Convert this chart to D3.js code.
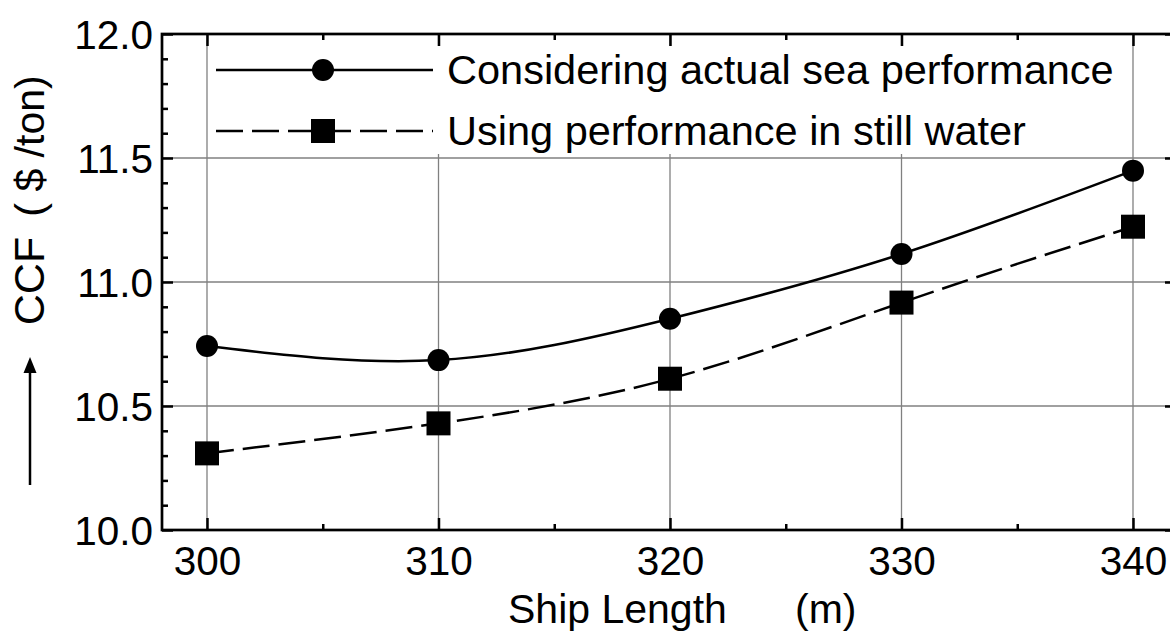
<!DOCTYPE html>
<html>
<head>
<meta charset="utf-8">
<script src="https://cdn.jsdelivr.net/npm/d3@7"></script>
<style>
  body { margin: 0; background: #fff; }
  svg { display: block; }
  text { font-family: "Liberation Sans", Arial, sans-serif; fill: #000; }
</style>
</head>
<body>
<div class="chart"></div>
<script>
// data
var shipLength = [300, 310, 320, 330, 340];
var ccfSea = [10.742, 10.685, 10.852, 11.113, 11.449];
var ccfStill = [10.309, 10.430, 10.610, 10.917, 11.223];
var xTicks = [300, 310, 320, 330, 340];
var xMinor = [305, 315, 325, 335];
var yTicks = [10.0, 10.5, 11.0, 11.5, 12.0];
var yMinor = [10.1, 10.2, 10.3, 10.4, 10.6, 10.7, 10.8, 10.9, 11.1, 11.2, 11.3, 11.4, 11.6, 11.7, 11.8, 11.9];
var seriesNames = ["Considering actual sea performance", "Using performance in still water"];

var svgWidth = 1170;
var svgHeight = 632;

// plot frame
var frame = { left: 162, right: 1176, top: 34, bottom: 530 };

var svg = d3.select(".chart")
    .append("svg")
    .attr("width", svgWidth)
    .attr("height", svgHeight);

var x = d3.scaleLinear().domain([300, 340]).range([207, 1133]);
var y = d3.scaleLinear().domain([10, 12]).range([frame.bottom, frame.top]);

// grid
var grid = svg.append("g").attr("stroke", "#808080").attr("stroke-width", 1.3);
grid.selectAll("line.v").data(xTicks).enter().append("line")
    .attr("x1", d => x(d)).attr("x2", d => x(d))
    .attr("y1", frame.top).attr("y2", frame.bottom);
grid.selectAll("line.h").data([10.5, 11.0, 11.5]).enter().append("line")
    .attr("x1", frame.left).attr("x2", frame.right)
    .attr("y1", d => y(d)).attr("y2", d => y(d));

// legend background hides the grid behind it
svg.append("rect")
    .attr("x", 211).attr("y", 46)
    .attr("width", 918).attr("height", 108)
    .attr("fill", "#fff");

// axes, ticks point inward
function styleAxis(g) {
    g.select(".domain").remove();
    g.selectAll(".tick line").attr("stroke", "#000").attr("stroke-width", 2.5);
    g.selectAll(".tick text").style("font-size", "40.5px").style("font-family", "Liberation Sans, Arial, sans-serif");
}

svg.append("g").attr("transform", `translate(0,${frame.bottom})`)
    .call(d3.axisBottom(x).tickValues(xTicks).tickSize(-12).tickPadding(16).tickFormat(d3.format("d")))
    .call(styleAxis);
svg.append("g").attr("transform", `translate(0,${frame.bottom})`)
    .call(d3.axisBottom(x).tickValues(xMinor).tickSize(-6).tickFormat(""))
    .call(styleAxis);
svg.append("g").attr("transform", `translate(0,${frame.top})`)
    .call(d3.axisTop(x).tickValues(xTicks).tickSize(-12).tickFormat(""))
    .call(styleAxis);
svg.append("g").attr("transform", `translate(0,${frame.top})`)
    .call(d3.axisTop(x).tickValues(xMinor).tickSize(-6).tickFormat(""))
    .call(styleAxis);

svg.append("g").attr("transform", `translate(${frame.left},0)`)
    .call(d3.axisLeft(y).tickValues(yTicks).tickSize(-11).tickPadding(9).tickFormat(d3.format(".1f")))
    .call(styleAxis)
    .selectAll(".tick text").attr("dy", "0.36em");
svg.append("g").attr("transform", `translate(${frame.left},0)`)
    .call(d3.axisLeft(y).tickValues(yMinor).tickSize(-6).tickFormat(""))
    .call(styleAxis);
svg.append("g").attr("transform", `translate(${frame.right},0)`)
    .call(d3.axisRight(y).tickValues(yTicks).tickSize(-11).tickFormat(""))
    .call(styleAxis);

// frame
svg.append("rect")
    .attr("x", frame.left).attr("y", frame.top)
    .attr("width", frame.right - frame.left).attr("height", frame.bottom - frame.top)
    .attr("fill", "none").attr("stroke", "#000").attr("stroke-width", 2.7);

// curves
var line = d3.line().x(d => x(d[0])).y(d => y(d[1])).curve(d3.curveNatural);

svg.append("path")
    .datum(d3.zip(shipLength, ccfSea))
    .attr("d", line)
    .attr("fill", "none").attr("stroke", "#000").attr("stroke-width", 2.5);

svg.append("path")
    .datum(d3.zip(shipLength, ccfStill))
    .attr("d", line)
    .attr("fill", "none").attr("stroke", "#000").attr("stroke-width", 2.5)
    .attr("stroke-dasharray", "27,9");

// markers
svg.selectAll("circle.sea").data(d3.zip(shipLength, ccfSea)).enter().append("circle")
    .attr("cx", d => x(d[0])).attr("cy", d => y(d[1])).attr("r", 11).attr("fill", "#000");

var sq = 24;
svg.selectAll("rect.still").data(d3.zip(shipLength, ccfStill)).enter().append("rect")
    .attr("x", d => x(d[0]) - sq / 2).attr("y", d => y(d[1]) - sq / 2)
    .attr("width", sq).attr("height", sq).attr("fill", "#000");

// legend
var legend = svg.append("g");
legend.append("line").attr("x1", 216).attr("x2", 433).attr("y1", 70).attr("y2", 70)
    .attr("stroke", "#000").attr("stroke-width", 2.5);
legend.append("circle").attr("cx", 323).attr("cy", 70).attr("r", 11).attr("fill", "#000");
legend.append("line").attr("x1", 216).attr("x2", 433).attr("y1", 131).attr("y2", 131)
    .attr("stroke", "#000").attr("stroke-width", 2.5).attr("stroke-dasharray", "27,9");
legend.append("rect").attr("x", 323 - sq / 2).attr("y", 131 - sq / 2)
    .attr("width", sq).attr("height", sq).attr("fill", "#000");
legend.selectAll("text").data(seriesNames).enter().append("text")
    .attr("x", 447).attr("y", (d, i) => 84 + i * 61)
    .style("font-size", "41.5px")
    .text(d => d);

// x axis title
svg.append("text").attr("x", 508).attr("y", 623).style("font-size", "41px").text("Ship Length");
svg.append("text").attr("x", 795).attr("y", 623).style("font-size", "41px").text("(m)");

// y axis title, rotated
svg.append("text")
    .attr("transform", "translate(44,281) rotate(-90)")
    .attr("text-anchor", "middle")
    .style("font-size", "43px")
    .text("CCF");
svg.append("text")
    .attr("transform", "translate(44,146) rotate(-90)")
    .attr("text-anchor", "middle")
    .style("font-size", "41px")
    .text("( $ /ton)");

// arrow
svg.append("line").attr("x1", 30).attr("x2", 30).attr("y1", 485).attr("y2", 370)
    .attr("stroke", "#000").attr("stroke-width", 2.5);
svg.append("path").attr("d", "M30,357 L23.5,373 L36.5,373 Z").attr("fill", "#000");
</script>
</body>
</html>
